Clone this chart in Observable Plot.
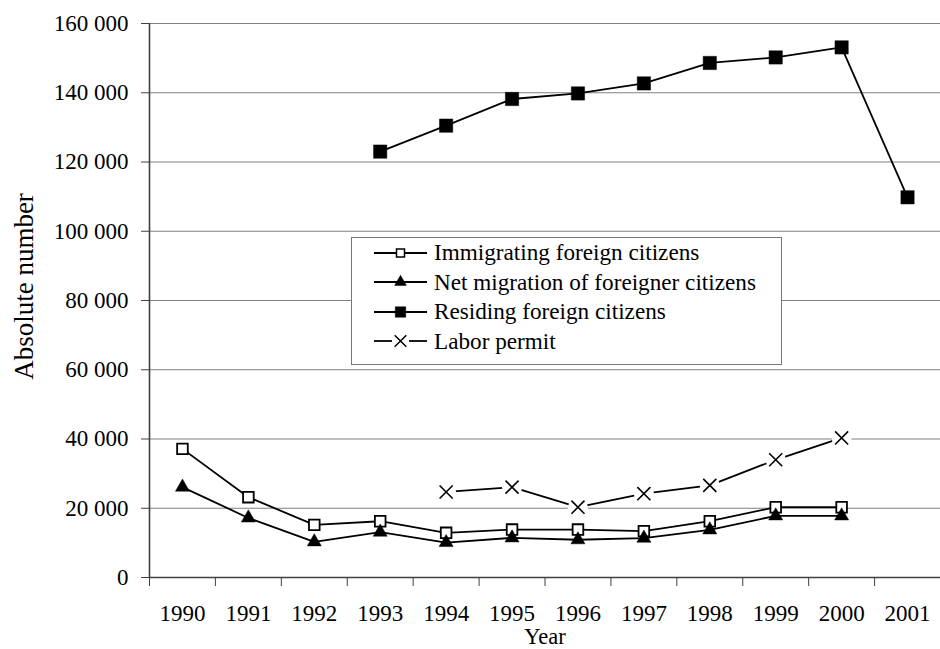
<!DOCTYPE html>
<html><head><meta charset="utf-8">
<script src="https://cdn.jsdelivr.net/npm/d3@7"></script>
<script src="https://cdn.jsdelivr.net/npm/@observablehq/plot@0.6"></script>
<style>
body{margin:0;background:#fff;}
#wrap{position:relative;width:940px;height:649px;font-family:"Times New Roman","Liberation Serif","Tinos","DejaVu Serif",serif;}
#wrap svg text{font-family:"Times New Roman","Liberation Serif","Tinos","DejaVu Serif",serif;}
#legend{position:absolute;left:351px;top:237px;width:431px;height:128px;border:1.5px solid #777;background:#fff;box-sizing:border-box;}
.row{display:flex;align-items:center;height:29.5px;font-size:23.2px;color:#000;white-space:nowrap;font-family:"Times New Roman","Liberation Serif","Tinos","DejaVu Serif",serif;}
.row svg{margin-left:22px;margin-right:7px;flex:none}
</style></head>
<body><div id="wrap"></div>
<script>
const years = [1990,1991,1992,1993,1994,1995,1996,1997,1998,1999,2000,2001];
const immigrating = [37150,23200,15200,16250,12900,13850,13850,13400,16250,20300,20300,null];
const netMigration = [26100,17200,10300,13100,10100,11450,10900,11350,13750,17800,17800,null];
const residing = [null,null,null,123000,130500,138200,139800,142700,148600,150200,153100,109800];
const laborPermit = [null,null,null,null,24700,26100,20300,24200,26600,34000,40300,null];
const seriesNames = ["Immigrating foreign citizens","Net migration of foreigner citizens","Residing foreign citizens","Labor permit"];
const yTicks = [0,20000,40000,60000,80000,100000,120000,140000,160000];

const toRows = arr => years.map((y,i)=>({year:y, value:arr[i]})).filter(d=>d.value!=null);
const imm = toRows(immigrating), net = toRows(netMigration), res = toRows(residing), lab = toRows(laborPermit);
const boundaries = years.map(y=>y-0.5);
const fmt = d => d3.format(",")(d).replace(/,/g," ");
const FONT = "'Times New Roman', 'Liberation Serif', Tinos, 'DejaVu Serif', serif";

const chart = Plot.plot({
  width: 940, height: 649,
  marginLeft: 149, marginRight: 0, marginTop: 23, marginBottom: 72,
  style: {fontFamily: FONT, fontSize: "23px", color: "#000", background: "white"},
  x: {type: "linear", domain: [1989.5, 2001.5]},
  y: {domain: [0, 160000]},
  marks: [
    Plot.gridY(yTicks, {stroke: "#808080", strokeOpacity: 1, strokeWidth: 1.2}),
    Plot.ruleX([1989.5], {stroke: "#404040", strokeWidth: 1.6}),
    Plot.ruleY([0], {stroke: "#404040", strokeWidth: 1.6}),
    Plot.axisY(yTicks, {tickSize: 8, tickPadding: 13, tickFormat: fmt, stroke: "#404040", label: null, fontSize: 23, fill: "#000"}),
    Plot.axisX(boundaries, {tickSize: 9, tickFormat: () => "", stroke: "#404040", label: null}),
    Plot.axisX(years, {tickSize: 0, tickPadding: 27.5, tickFormat: d => String(d), label: null, fontSize: 23, fill: "#000"}),
    Plot.text(["Year"], {frameAnchor: "bottom", dy: 59, fontSize: 22.5, lineAnchor: "middle", fill: "#000"}),
    Plot.text(["Absolute number"], {frameAnchor: "left", dx: -125, dy: -14, rotate: -90, fontSize: 27, lineAnchor: "middle", textAnchor: "middle", fill: "#000"}),
    Plot.line(imm, {x: "year", y: "value", stroke: "black", strokeWidth: 1.8}),
    Plot.line(net, {x: "year", y: "value", stroke: "black", strokeWidth: 1.8}),
    Plot.line(res, {x: "year", y: "value", stroke: "black", strokeWidth: 1.8}),
    Plot.line(lab, {x: "year", y: "value", stroke: "black", strokeWidth: 1.8}),
    Plot.dot(lab, {x: "year", y: "value", r: 10, fill: "white", stroke: "none"}),
    Plot.dot(lab, {x: "year", y: "value", symbol: "times", r: 6, stroke: "black", strokeWidth: 1.6}),
    Plot.dot(imm, {x: "year", y: "value", symbol: "square", r: 6, fill: "white", stroke: "black", strokeWidth: 1.8}),
    Plot.dot(net, {x: "year", y: "value", symbol: "triangle", r: 5.2, fill: "black", stroke: "black", strokeWidth: 0.5}),
    Plot.dot(res, {x: "year", y: "value", symbol: "square", r: 7.5, fill: "black", stroke: "black", strokeWidth: 0.5})
  ]
});
const wrap = document.getElementById("wrap");
wrap.appendChild(chart);

// legend
const legend = document.createElement("div");
legend.id = "legend";
const swatch = [
  {sym: d3.symbolSquare, size: 64, fill: "white", sw: 1.5, gap: false},
  {sym: d3.symbolTriangle, size: 60, fill: "black", sw: 0.5, gap: false},
  {sym: d3.symbolSquare, size: 110, fill: "black", sw: 0.5, gap: false},
  {sym: d3.symbolTimes, size: 90, fill: "none", sw: 1.5, gap: true}
];
seriesNames.forEach((name, i) => {
  const row = document.createElement("div");
  row.className = "row";
  const s = swatch[i];
  const svg = d3.create("svg").attr("width", 53).attr("height", 20);
  if (s.gap) {
    svg.append("line").attr("x1", 0).attr("x2", 18).attr("y1", 10).attr("y2", 10).attr("stroke", "black").attr("stroke-width", 1.8);
    svg.append("line").attr("x1", 35).attr("x2", 53).attr("y1", 10).attr("y2", 10).attr("stroke", "black").attr("stroke-width", 1.8);
  } else {
    svg.append("line").attr("x1", 0).attr("x2", 53).attr("y1", 10).attr("y2", 10).attr("stroke", "black").attr("stroke-width", 1.8);
  }
  svg.append("path").attr("transform", "translate(26.5,10)")
    .attr("d", d3.symbol(s.sym, s.size)())
    .attr("fill", s.fill).attr("stroke", "black").attr("stroke-width", s.sw);
  row.appendChild(svg.node());
  const span = document.createElement("span");
  span.textContent = name;
  row.appendChild(span);
  legend.appendChild(row);
});
wrap.appendChild(legend);
</script>
</body></html>
